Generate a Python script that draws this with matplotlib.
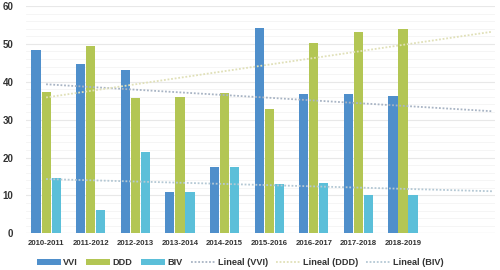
import matplotlib
matplotlib.use("Agg")
import matplotlib.pyplot as plt
import numpy as np

categories = ["2010-2011", "2011-2012", "2012-2013", "2013-2014", "2014-2015",
              "2015-2016", "2016-2017", "2017-2018", "2018-2019"]
vvi = [48.5, 44.6, 43.2, 10.8, 17.5, 54.1, 36.7, 36.8, 36.1]
ddd = [37.2, 49.4, 35.6, 35.9, 36.9, 32.9, 50.2, 53.1, 53.9]
biv = [14.5, 6.2, 21.5, 10.8, 17.4, 13.1, 13.3, 10.2, 10.2]
series_names = ["VVI", "DDD", "BIV"]
bar_colors = ["#4f8fcb", "#b3c654", "#5bbfd9"]
trend_colors = ["#a8b4c4", "#e0e0b8", "#b4c8d4"]
forecast_periods = 2

plt.rcParams["font.family"] = ["Liberation Sans", "DejaVu Sans"]

fig = plt.figure(figsize=(5.0, 2.7), dpi=100)
ax = fig.add_axes([0.052, 0.136, 0.937, 0.842])

x = np.arange(len(categories))
w = 0.205
gap = 0.02
data = [vvi, ddd, biv]
handles = []
for i, (vals, col, name) in enumerate(zip(data, bar_colors, series_names)):
    offs = (i - 1) * (w + gap)
    b = ax.bar(x + offs, vals, width=w, color=col, label=name, zorder=3)
    handles.append(b)

xt = np.linspace(0, len(categories) - 1 + forecast_periods, 50)
for vals, col, name in zip(data, trend_colors, series_names):
    m, c = np.polyfit(x, vals, 1)
    ln, = ax.plot(xt, m * xt + c, color=col, linestyle=(0, (1, 1)), linewidth=1.3,
                  label=f"Lineal ({name})", zorder=4)
    handles.append(ln)

ax.set_ylim(0, 60)
ax.set_xlim(-0.45, len(categories) - 1 + forecast_periods + 0.05)
ax.set_yticks(np.arange(0, 61, 10))
ax.set_yticks(np.arange(0, 61, 2), minor=True)
ax.grid(axis="y", which="major", color="#e8e8e8", linewidth=0.8, zorder=0)
ax.grid(axis="y", which="minor", color="#f4f4f4", linewidth=0.6, zorder=0)
ax.set_xticks(x)
ax.set_xticklabels(categories, fontsize=5.6, fontweight="bold", color="#333333")
ax.tick_params(axis="y", which="both", labelsize=7, colors="#333333", length=0, pad=9)
ax.tick_params(axis="x", which="both", length=0, pad=5)
for lab in ax.get_yticklabels():
    lab.set_fontweight("bold")
for s in ax.spines.values():
    s.set_visible(False)
ax.axhline(0, color="#e0e0e0", linewidth=0.8, zorder=1)

leg = fig.legend(handles=handles, loc="center", bbox_to_anchor=(0.48, 0.027), ncol=6,
                 frameon=False, handlelength=2.6, handleheight=0.75,
                 columnspacing=0.9, handletextpad=0.3,
                 prop={"weight": "bold", "size": 6.6})
for t in leg.get_texts():
    t.set_color("#333333")

fig.savefig("out.png", dpi=100, facecolor="white")
